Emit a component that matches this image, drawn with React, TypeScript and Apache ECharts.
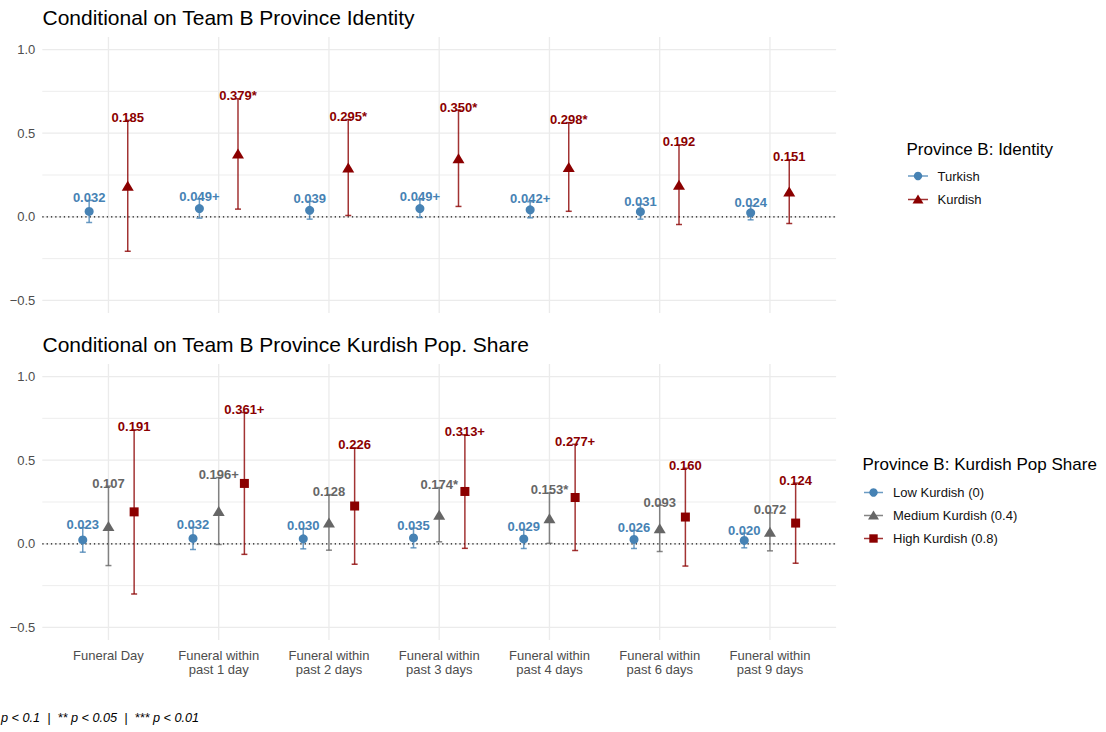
import React, { useEffect, useRef } from 'react';
import * as echarts from 'echarts';

// ---- Data -----------------------------------------------------------------
const CATEGORIES = [
  'Funeral Day',
  'Funeral within\npast 1 day',
  'Funeral within\npast 2 days',
  'Funeral within\npast 3 days',
  'Funeral within\npast 4 days',
  'Funeral within\npast 6 days',
  'Funeral within\npast 9 days',
];

const Y_TICKS = [-0.5, 0, 0.5, 1];
const Y_MINOR = [-0.25, 0.25, 0.75];

// Panel 1: conditional on Team B province identity
const TURKISH_EST = [0.032, 0.049, 0.039, 0.049, 0.042, 0.031, 0.024];
const TURKISH_LO = [-0.034, -0.008, -0.014, -0.004, -0.006, -0.014, -0.018];
const TURKISH_HI = [0.098, 0.106, 0.092, 0.102, 0.09, 0.076, 0.066];
const TURKISH_SIG = ['', '+', '', '+', '+', '', ''];

const KURDISH_EST = [0.185, 0.379, 0.295, 0.35, 0.298, 0.192, 0.151];
const KURDISH_LO = [-0.206, 0.046, 0.008, 0.062, 0.033, -0.046, -0.04];
const KURDISH_HI = [0.577, 0.706, 0.582, 0.638, 0.563, 0.43, 0.341];
const KURDISH_SIG = ['', '*', '*', '*', '*', '', ''];

// Panel 2: conditional on Team B province Kurdish population share
const LOW_EST = [0.023, 0.032, 0.03, 0.035, 0.029, 0.026, 0.02];
const LOW_LO = [-0.05, -0.034, -0.03, -0.024, -0.028, -0.028, -0.024];
const LOW_HI = [0.096, 0.098, 0.09, 0.094, 0.086, 0.08, 0.064];
const LOW_SIG = ['', '', '', '', '', '', ''];

const MED_EST = [0.107, 0.196, 0.128, 0.174, 0.153, 0.093, 0.072];
const MED_LO = [-0.13, -0.004, -0.038, 0.012, 0.003, -0.046, -0.042];
const MED_HI = [0.345, 0.396, 0.294, 0.336, 0.304, 0.231, 0.185];
const MED_SIG = ['', '+', '', '*', '*', '', ''];

const HIGH_EST = [0.191, 0.361, 0.226, 0.313, 0.277, 0.16, 0.124];
const HIGH_LO = [-0.3, -0.063, -0.122, -0.027, -0.04, -0.133, -0.116];
const HIGH_HI = [0.681, 0.785, 0.573, 0.652, 0.595, 0.452, 0.363];
const HIGH_SIG = ['', '+', '', '+', '+', '', ''];

// ---- Styling ----------------------------------------------------------------
const BLUE = '#4682B4';
const GREY = '#666666';
const RED = '#8B0000';
const FONT = '"Liberation Sans", Arial, Helvetica, sans-serif';
const GRID_COLOR = '#ebebeb';

const X_MIN = -0.6;
const X_MAX = 6.6;
const Y_MIN = -0.575;
const Y_MAX = 1.075;

type Group = {
  name: string;
  est: number[];
  lo: number[];
  hi: number[];
  sig: string[];
  color: string;
  symbol: string;
  symbolSize: number | number[];
};

const PANEL1: Group[] = [
  { name: 'Turkish', est: TURKISH_EST, lo: TURKISH_LO, hi: TURKISH_HI, sig: TURKISH_SIG, color: BLUE, symbol: 'circle', symbolSize: 9 },
  { name: 'Kurdish', est: KURDISH_EST, lo: KURDISH_LO, hi: KURDISH_HI, sig: KURDISH_SIG, color: RED, symbol: 'triangle', symbolSize: [12, 10] },
];
const PANEL2: Group[] = [
  { name: 'Low Kurdish (0)', est: LOW_EST, lo: LOW_LO, hi: LOW_HI, sig: LOW_SIG, color: BLUE, symbol: 'circle', symbolSize: 9 },
  { name: 'Medium Kurdish (0.4)', est: MED_EST, lo: MED_LO, hi: MED_HI, sig: MED_SIG, color: GREY, symbol: 'triangle', symbolSize: [12, 10] },
  { name: 'High Kurdish (0.8)', est: HIGH_EST, lo: HIGH_LO, hi: HIGH_HI, sig: HIGH_SIG, color: RED, symbol: 'rect', symbolSize: 9 },
];

// dodge offsets within each category
const DODGE1 = [-0.175, 0.175];
const DODGE2 = [-0.233, 0, 0.233];

function guideSeries(gridIndex: number, values: number[], vertical: boolean, style: any, z: number) {
  return {
    type: 'custom',
    xAxisIndex: gridIndex,
    yAxisIndex: gridIndex,
    silent: true,
    z,
    data: values.map((v) => [v]),
    renderItem: (_params: any, api: any) => {
      const v = api.value(0);
      const a = vertical ? api.coord([v, Y_MIN]) : api.coord([X_MIN, v]);
      const b = vertical ? api.coord([v, Y_MAX]) : api.coord([X_MAX, v]);
      return { type: 'line', shape: { x1: a[0], y1: a[1], x2: b[0], y2: b[1] }, style };
    },
  };
}

function panelSeries(gridIndex: number, groups: Group[], dodge: number[]) {
  const out: any[] = [];
  out.push(guideSeries(gridIndex, Y_MINOR, false, { stroke: GRID_COLOR, lineWidth: 0.9 }, 0));
  out.push(guideSeries(gridIndex, Y_TICKS, false, { stroke: GRID_COLOR, lineWidth: 1.3 }, 0));
  out.push(guideSeries(gridIndex, CATEGORIES.map((_, i) => i), true, { stroke: GRID_COLOR, lineWidth: 1.3 }, 0));
  out.push(guideSeries(gridIndex, [0], false, { stroke: '#111', lineWidth: 1.2, lineDash: [1.3, 3] }, 1));

  groups.forEach((g, gi) => {
    const xs = g.est.map((_, i) => i + dodge[gi]);
    const errStyle = { stroke: g.color, lineWidth: 1.5, opacity: 0.8 };
    out.push({
      type: 'custom',
      name: g.name,
      xAxisIndex: gridIndex,
      yAxisIndex: gridIndex,
      silent: true,
      z: 2,
      encode: { x: 0, y: [1, 2, 3] },
      data: g.est.map((e, i) => [xs[i], e, g.lo[i], g.hi[i]]),
      renderItem: (_params: any, api: any) => {
        const x = api.value(0);
        const a = api.coord([x, api.value(2)]);
        const b = api.coord([x, api.value(3)]);
        return {
          type: 'group',
          children: [
            { type: 'line', shape: { x1: a[0], y1: a[1], x2: b[0], y2: b[1] }, style: errStyle },
            { type: 'line', shape: { x1: a[0] - 3, y1: a[1], x2: a[0] + 3, y2: a[1] }, style: errStyle },
            { type: 'line', shape: { x1: b[0] - 3, y1: b[1], x2: b[0] + 3, y2: b[1] }, style: errStyle },
          ],
        };
      },
    });
    out.push({
      type: 'scatter',
      name: g.name,
      xAxisIndex: gridIndex,
      yAxisIndex: gridIndex,
      silent: true,
      z: 3,
      symbol: g.symbol,
      symbolSize: g.symbolSize,
      itemStyle: { color: g.color, opacity: 1 },
      data: g.est.map((e, i) => [xs[i], e]),
    });
    const labels = g.est.map((e, i) => e.toFixed(3) + g.sig[i]);
    out.push({
      type: 'custom',
      name: g.name,
      xAxisIndex: gridIndex,
      yAxisIndex: gridIndex,
      silent: true,
      z: 4,
      encode: { x: 0, y: 1 },
      data: g.hi.map((h, i) => [xs[i], h]),
      renderItem: (params: any, api: any) => {
        const p = api.coord([api.value(0), api.value(1)]);
        return {
          type: 'text',
          x: p[0],
          y: p[1] - 3,
          style: {
            text: labels[params.dataIndex],
            fill: g.color,
            font: `bold 13px ${FONT}`,
            textAlign: 'center',
            textVerticalAlign: 'middle',
            align: 'center',
            verticalAlign: 'middle',
          },
        };
      },
    });
  });
  return out;
}

function fmtTick(v: number) {
  return v < 0 ? '\u2212' + Math.abs(v).toFixed(1) : v.toFixed(1);
}

function legendGraphics(title: string, titleX: number, titleY: number, lineX0: number, lineX1: number, textX: number, rowsY: number[], groups: Group[]) {
  const els: any[] = [
    {
      type: 'text',
      x: titleX,
      y: titleY,
      style: { text: title, fill: '#000', font: `17px ${FONT}`, textAlign: 'left', textVerticalAlign: 'middle', align: 'left', verticalAlign: 'middle' },
    },
  ];
  groups.forEach((g, i) => {
    const y = rowsY[i];
    const cx = (lineX0 + lineX1) / 2;
    els.push({ type: 'line', shape: { x1: lineX0, y1: y, x2: lineX1, y2: y }, style: { stroke: g.color, lineWidth: 1.5, opacity: 0.8 } });
    if (g.symbol === 'circle') {
      els.push({ type: 'circle', shape: { cx, cy: y, r: 4.2 }, style: { fill: g.color } });
    } else if (g.symbol === 'triangle') {
      els.push({ type: 'polygon', shape: { points: [[cx, y - 5], [cx - 5.5, y + 4], [cx + 5.5, y + 4]] }, style: { fill: g.color } });
    } else {
      els.push({ type: 'rect', shape: { x: cx - 4.2, y: y - 4.2, width: 8.4, height: 8.4 }, style: { fill: g.color } });
    }
    els.push({
      type: 'text',
      x: textX,
      y,
      style: { text: g.name, fill: '#111', font: `13px ${FONT}`, textAlign: 'left', textVerticalAlign: 'middle', align: 'left', verticalAlign: 'middle' },
    });
  });
  return els;
}

export default function App() {
  const ref = useRef<HTMLDivElement>(null);

  useEffect(() => {
    if (!ref.current) return;
    const chart = echarts.init(ref.current, undefined, { renderer: 'svg' });

    const grids = [
      { left: 42.3, top: 37, width: 793.8, height: 276 },
      { left: 42.3, top: 364, width: 793.8, height: 276 },
    ];

    const xAxes = [0, 1].map((i) => ({
      type: 'value',
      gridIndex: i,
      min: X_MIN,
      max: X_MAX,
      axisLine: { show: false },
      axisTick: { show: false, customValues: CATEGORIES.map((_, k) => k) },
      splitLine: { show: false },
      axisLabel: {
        show: i === 1,
        customValues: CATEGORIES.map((_, k) => k),
        formatter: (v: number) => CATEGORIES[Math.round(v)] ?? '',
        fontSize: 13,
        fontFamily: FONT,
        color: '#4d4d4d',
        lineHeight: 14,
        margin: 8,
        align: 'center',
      },
    }));

    const yAxes = [0, 1].map((i) => ({
      type: 'value',
      gridIndex: i,
      min: Y_MIN,
      max: Y_MAX,
      axisLine: { show: false },
      axisTick: { show: false, customValues: Y_TICKS },
      splitLine: { show: false },
      axisLabel: {
        customValues: Y_TICKS,
        formatter: fmtTick,
        fontSize: 13,
        fontFamily: FONT,
        color: '#4d4d4d',
        margin: 7,
      },
    }));

    const titleStyle = (text: string, y: number) => ({
      type: 'text',
      x: 42.5,
      y,
      style: { text, fill: '#000', font: `21px ${FONT}`, textAlign: 'left', textVerticalAlign: 'middle', align: 'left', verticalAlign: 'middle' },
    });

    chart.setOption({
      animation: false,
      backgroundColor: '#ffffff',
      grid: grids,
      xAxis: xAxes,
      yAxis: yAxes,
      series: [...panelSeries(0, PANEL1, DODGE1), ...panelSeries(1, PANEL2, DODGE2)],
      graphic: [
        titleStyle('Conditional on Team B Province Identity', 17.5),
        titleStyle('Conditional on Team B Province Kurdish Pop. Share', 344.5),
        ...legendGraphics('Province B: Identity', 906.5, 149, 908, 928, 937.5, [176, 199.5], PANEL1),
        ...legendGraphics('Province B: Kurdish Pop Share', 862.5, 464, 864, 883, 893, [492.5, 515.5, 538.5], PANEL2),
        {
          type: 'text',
          x: 1,
          y: 717.5,
          style: {
            text: 'p < 0.1  |  ** p < 0.05  |  *** p < 0.01',
            fill: '#000',
            font: `italic 12.7px ${FONT}`,
            textAlign: 'left',
            textVerticalAlign: 'middle',
            align: 'left',
            verticalAlign: 'middle',
          },
        },
      ],
    });

    return () => chart.dispose();
  }, []);

  return (
    <div
      ref={ref}
      style={{ position: 'absolute', left: 0, top: 0, width: 1106, height: 732, background: '#fff' }}
    />
  );
}
